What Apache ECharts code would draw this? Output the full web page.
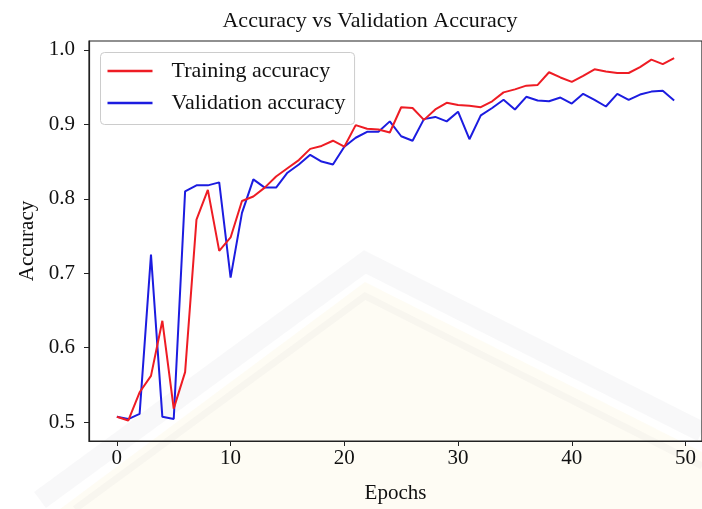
<!DOCTYPE html>
<html>
<head>
<meta charset="utf-8">
<script src="https://cdn.jsdelivr.net/npm/echarts@6/dist/echarts.min.js"></script>
<style>
  html, body { margin: 0; padding: 0; background: #ffffff; }
  #chart { width: 702px; height: 509px; }
</style>
</head>
<body>
<div id="chart"></div>
<script>
// Per-epoch accuracy over 50 training epochs
const epochs = Array.from({ length: 50 }, (_, i) => i);
const trainingAccuracy = [
  0.507, 0.502, 0.540, 0.562, 0.636, 0.518, 0.567, 0.772, 0.812, 0.730,
  0.748, 0.797, 0.803, 0.815, 0.830, 0.841, 0.852, 0.867, 0.871, 0.878,
  0.870, 0.899, 0.894, 0.893, 0.889, 0.923, 0.922, 0.906, 0.920, 0.929,
  0.926, 0.925, 0.923, 0.931, 0.943, 0.947, 0.952, 0.953, 0.970, 0.963,
  0.957, 0.965, 0.974, 0.971, 0.969, 0.969, 0.977, 0.987, 0.981, 0.989
];
const validationAccuracy = [
  0.507, 0.504, 0.511, 0.725, 0.507, 0.504, 0.810, 0.818, 0.818, 0.822,
  0.694, 0.781, 0.826, 0.815, 0.815, 0.835, 0.846, 0.859, 0.850, 0.846,
  0.870, 0.882, 0.890, 0.890, 0.904, 0.884, 0.878, 0.907, 0.910, 0.904,
  0.917, 0.880, 0.912, 0.922, 0.933, 0.920, 0.937, 0.932, 0.931, 0.936,
  0.928, 0.941, 0.933, 0.924, 0.941, 0.933, 0.940, 0.944, 0.945, 0.932
];
const xTicks = [0, 10, 20, 30, 40, 50];
const yTicks = [0.5, 0.6, 0.7, 0.8, 0.9, 1.0];

const FONT = '"Liberation Serif", "Times New Roman", serif';

const chart = echarts.init(document.getElementById('chart'), null, { renderer: 'canvas' });

// faint background emblem behind the plot
const emblem = [
  {
    type: 'polygon', silent: true, z: -10,
    shape: { points: [[60, 509], [365, 282], [702, 452], [702, 509]] },
    style: { fill: 'rgba(246, 238, 185, 0.16)' }
  },
  {
    type: 'polyline', silent: true, z: -9,
    shape: { points: [[40, 500], [365, 262], [702, 432]] },
    style: { stroke: 'rgba(150, 150, 165, 0.07)', lineWidth: 20, fill: null }
  },
  {
    type: 'polyline', silent: true, z: -9,
    shape: { points: [[75, 509], [365, 296], [702, 466]] },
    style: { stroke: 'rgba(150, 150, 165, 0.06)', lineWidth: 7, fill: null }
  }
];

chart.setOption({
  animation: false,
  backgroundColor: '#ffffff',
  graphic: emblem,
  title: {
    text: 'Accuracy vs Validation Accuracy',
    left: 370,
    top: 10,
    padding: 0,
    textAlign: 'center',
    textStyle: { fontFamily: FONT, fontSize: 22, fontWeight: 'normal', color: '#111111' }
  },
  grid: {
    left: 89,
    top: 41,
    bottom: 66.5,
    right: -1.5,
    show: true,
    borderColor: '#222222',
    borderWidth: 1.2,
    backgroundColor: 'transparent'
  },
  legend: {
    orient: 'vertical',
    left: 100.5,
    top: 52.5,
    padding: [7.5, 9, 10.5, 7],
    icon: 'rect',
    itemWidth: 45,
    itemHeight: 2.4,
    itemGap: 10,
    backgroundColor: 'rgba(255,255,255,0.85)',
    borderColor: '#cccccc',
    borderWidth: 1,
    borderRadius: 4,
    textStyle: { fontFamily: FONT, fontSize: 22, color: '#111111', padding: [0, 0, 0, 14] },
    data: ['Training accuracy', 'Validation accuracy']
  },
  xAxis: {
    type: 'value',
    min: -2.45,
    max: 51.45,
    name: 'Epochs',
    nameLocation: 'middle',
    nameGap: 42,
    nameTextStyle: { fontFamily: FONT, fontSize: 21, color: '#111111' },
    axisLine: { show: true, onZero: false, lineStyle: { color: '#222222', width: 1.2 } },
    axisTick: { show: true, length: 5, customValues: xTicks, lineStyle: { color: '#222222' } },
    axisLabel: { customValues: xTicks, margin: 7, fontFamily: FONT, fontSize: 21, color: '#111111' },
    splitLine: { show: false }
  },
  yAxis: {
    type: 'value',
    min: 0.4745,
    max: 1.012,
    name: 'Accuracy',
    nameLocation: 'middle',
    nameGap: 50,
    nameTextStyle: { fontFamily: FONT, fontSize: 21, color: '#111111' },
    axisLine: { show: true, onZero: false, lineStyle: { color: '#222222', width: 1.2 } },
    axisTick: { show: true, length: 5, customValues: yTicks, lineStyle: { color: '#222222' } },
    axisLabel: {
      customValues: yTicks, margin: 14, fontFamily: FONT, fontSize: 21, color: '#111111',
      formatter: v => v.toFixed(1)
    },
    splitLine: { show: false }
  },
  series: [
    {
      name: 'Training accuracy',
      type: 'line',
      symbol: 'none',
      data: epochs.map((e, i) => [e, trainingAccuracy[i]]),
      lineStyle: { color: '#ee1c24', width: 2 },
      itemStyle: { color: '#ee1c24' },
      z: 3
    },
    {
      name: 'Validation accuracy',
      type: 'line',
      symbol: 'none',
      data: epochs.map((e, i) => [e, validationAccuracy[i]]),
      lineStyle: { color: '#1c1ce0', width: 2 },
      itemStyle: { color: '#1c1ce0' },
      z: 2
    }
  ]
});
</script>
</body>
</html>
